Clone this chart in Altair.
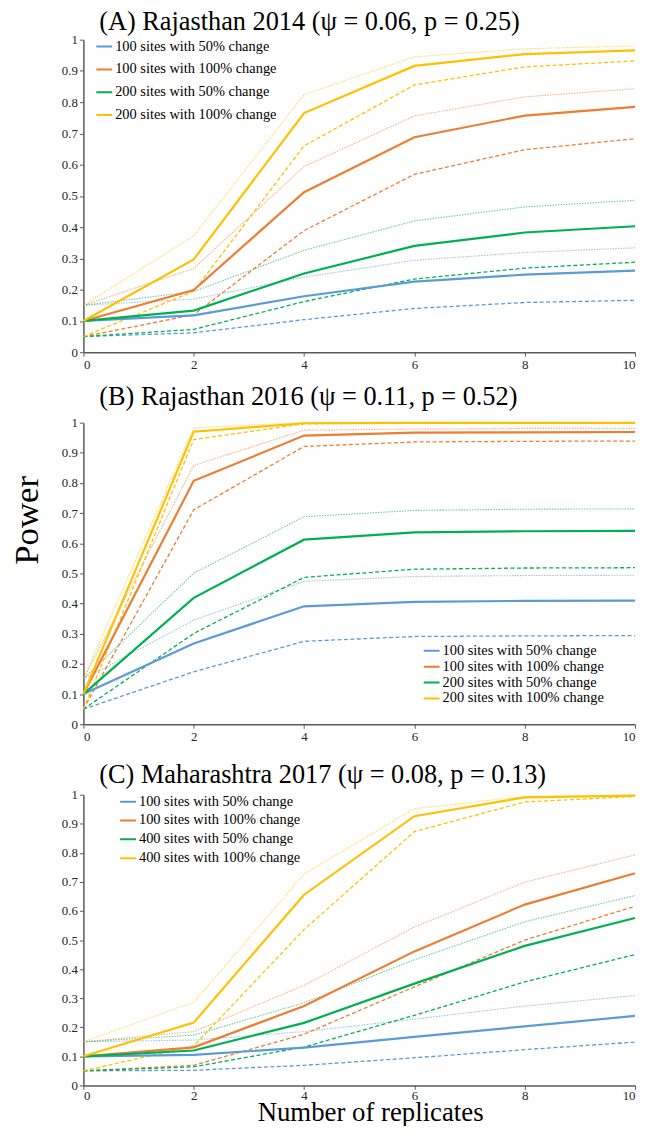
import altair as alt
import pandas as pd

X = [0, 2, 4, 6, 8, 10]

COLORS = ["#5B9BD5", "#ED7D31", "#00B050", "#FFC000"]

LABELS_AB = ["100 sites with 50% change", "100 sites with 100% change",
             "200 sites with 50% change", "200 sites with 100% change"]
LABELS_C = ["100 sites with 50% change", "100 sites with 100% change",
            "400 sites with 50% change", "400 sites with 100% change"]

# Panel A: Rajasthan 2014
A_MEAN = [
    [0.10, 0.118, 0.179, 0.226, 0.248, 0.261],
    [0.10, 0.199, 0.512, 0.688, 0.757, 0.785],
    [0.10, 0.133, 0.252, 0.340, 0.383, 0.403],
    [0.10, 0.297, 0.765, 0.916, 0.954, 0.966],
]
A_UPPER = [
    [0.15, 0.170, 0.240, 0.294, 0.319, 0.334],
    [0.15, 0.268, 0.594, 0.756, 0.817, 0.843],
    [0.15, 0.194, 0.326, 0.420, 0.465, 0.486],
    [0.15, 0.372, 0.824, 0.945, 0.971, 0.980],
]
A_LOWER = [
    [0.05, 0.062, 0.104, 0.140, 0.159, 0.166],
    [0.05, 0.120, 0.389, 0.569, 0.648, 0.683],
    [0.05, 0.073, 0.162, 0.234, 0.269, 0.288],
    [0.05, 0.195, 0.660, 0.855, 0.913, 0.932],
]

# Panel B: Rajasthan 2016
B_MEAN = [
    [0.10, 0.268, 0.391, 0.406, 0.409, 0.410],
    [0.10, 0.807, 0.957, 0.967, 0.968, 0.969],
    [0.10, 0.419, 0.612, 0.636, 0.640, 0.641],
    [0.10, 0.970, 0.998, 0.999, 0.999, 0.999],
]
B_UPPER = [
    [0.15, 0.345, 0.474, 0.490, 0.493, 0.494],
    [0.15, 0.858, 0.975, 0.979, 0.981, 0.981],
    [0.15, 0.501, 0.688, 0.709, 0.713, 0.714],
    [0.15, 0.983, 1.000, 1.000, 1.000, 1.000],
]
B_LOWER = [
    [0.05, 0.174, 0.275, 0.291, 0.293, 0.294],
    [0.05, 0.711, 0.921, 0.936, 0.938, 0.939],
    [0.05, 0.301, 0.487, 0.514, 0.518, 0.519],
    [0.05, 0.944, 0.996, 0.999, 0.999, 0.999],
]

# Panel C: Maharashtra 2017
C_MEAN = [
    [0.10, 0.105, 0.130, 0.167, 0.203, 0.239],
    [0.10, 0.131, 0.273, 0.461, 0.622, 0.730],
    [0.10, 0.120, 0.215, 0.350, 0.480, 0.576],
    [0.10, 0.216, 0.656, 0.926, 0.991, 0.997],
]
C_UPPER = [
    [0.15, 0.156, 0.185, 0.228, 0.273, 0.309],
    [0.15, 0.185, 0.344, 0.545, 0.699, 0.793],
    [0.15, 0.173, 0.284, 0.432, 0.563, 0.653],
    [0.15, 0.286, 0.727, 0.952, 0.994, 0.998],
]
C_LOWER = [
    [0.05, 0.052, 0.069, 0.095, 0.123, 0.149],
    [0.05, 0.069, 0.176, 0.339, 0.500, 0.616],
    [0.05, 0.064, 0.132, 0.241, 0.356, 0.450],
    [0.05, 0.136, 0.536, 0.873, 0.975, 0.994],
]

TITLES = ["(A) Rajasthan 2014 (\u03c8 = 0.06, p = 0.25)",
          "(B) Rajasthan 2016 (\u03c8 = 0.11, p = 0.52)",
          "(C) Maharashtra 2017 (\u03c8 = 0.08, p = 0.13)"]

Y_TICKS = [0, 0.1, 0.2, 0.3, 0.4, 0.5, 0.6, 0.7, 0.8, 0.9, 1]

FONT = "Liberation Serif"

AXIS_STYLE = dict(labelFont=FONT, labelFontSize=13, labelColor="#262626",
                  domainColor="#595959", domainWidth=1.5, tickColor="#595959",
                  tickSize=4, grid=False, titleFont=FONT,
                  titleFontWeight="normal", titleColor="black")


def frame(labels, mean, upper, lower):
    rows = []
    for stat, arr in (("upper", upper), ("lower", lower), ("mean", mean)):
        for i, lab in enumerate(labels):
            for x, v in zip(X, arr[i]):
                rows.append({"x": x, "value": v, "series": lab, "stat": stat})
    return pd.DataFrame(rows)


def panel(df, labels, title, title_offset, height, legend_pos, row_pad,
          x_title=None, y_title=None):
    if x_title:
        xaxis = alt.Axis(values=X, title=x_title, labelPadding=0.5,
                         titleFontSize=27, titleX=289, titleY=35,
                         titleBaseline="alphabetic", titleAlign="center",
                         **AXIS_STYLE)
    else:
        xaxis = alt.Axis(values=X, title=None, labelPadding=2, **AXIS_STYLE)
    if y_title:
        yaxis = alt.Axis(values=Y_TICKS, format="~g", title=y_title,
                         titleFontSize=35, titleX=-46, titleY=98,
                         titleAngle=-90, titleBaseline="alphabetic",
                         titleAlign="center", **AXIS_STYLE)
    else:
        yaxis = alt.Axis(values=Y_TICKS, format="~g", title=None, **AXIS_STYLE)
    x = alt.X("x:Q", scale=alt.Scale(domain=[0, 10], nice=False), axis=xaxis)
    y = alt.Y("value:Q", scale=alt.Scale(domain=[0, 1], nice=False), axis=yaxis)
    legend = alt.Legend(
        title=None, orient="none", legendX=legend_pos[0],
        legendY=legend_pos[1], symbolType="stroke", symbolSize=256,
        symbolStrokeWidth=2, symbolDash=[1, 0], symbolOpacity=1,
        labelFont=FONT, labelFontSize=14.5, labelColor="black", labelOffset=2,
        rowPadding=row_pad, padding=0, labelLimit=300,
    )
    color = alt.Color("series:N", scale=alt.Scale(domain=labels, range=COLORS),
                      sort=labels, legend=legend)
    base = alt.Chart(df)

    upper = base.transform_filter(alt.datum.stat == "upper").mark_line(
        strokeWidth=1.1, strokeDash=[1.5, 1.2], opacity=0.6
    ).encode(x=x, y=y, color=color, detail="series:N")
    lower = base.transform_filter(alt.datum.stat == "lower").mark_line(
        strokeWidth=1.3, strokeDash=[4, 2.5]
    ).encode(x=x, y=y, color=color, detail="series:N")
    mean = base.transform_filter(alt.datum.stat == "mean").mark_line(
        strokeWidth=2.2
    ).encode(x=x, y=y, color=color, detail="series:N")
    return alt.layer(upper, lower, mean).properties(
        width=556, height=height,
        title=alt.TitleParams(title, anchor="start", frame="group", dx=16,
                              offset=title_offset,
                              fontSize=26.5, font=FONT, fontWeight="normal",
                              color="black"),
    )


pa = panel(frame(LABELS_AB, A_MEAN, A_UPPER, A_LOWER), LABELS_AB, TITLES[0],
           -1.5, 315, (12, -2), 7)
pb = panel(frame(LABELS_AB, B_MEAN, B_UPPER, B_LOWER), LABELS_AB, TITLES[1],
           6.5, 304, (342, 221), 0, y_title="Power")
pc = panel(frame(LABELS_C, C_MEAN, C_UPPER, C_LOWER), LABELS_C, TITLES[2],
           0.5, 293, (36, -2), 3, x_title="Number of replicates")

chart = alt.vconcat(pa, pb, pc, spacing=71, bounds="flush").resolve_scale(
    color="independent"
).resolve_legend(color="independent").properties(
    padding={"left": 2, "top": -3.5, "right": 0, "bottom": -4}
).configure_view(stroke=None)

chart.save("out.html", embed_options={"renderer": "svg", "actions": False})
